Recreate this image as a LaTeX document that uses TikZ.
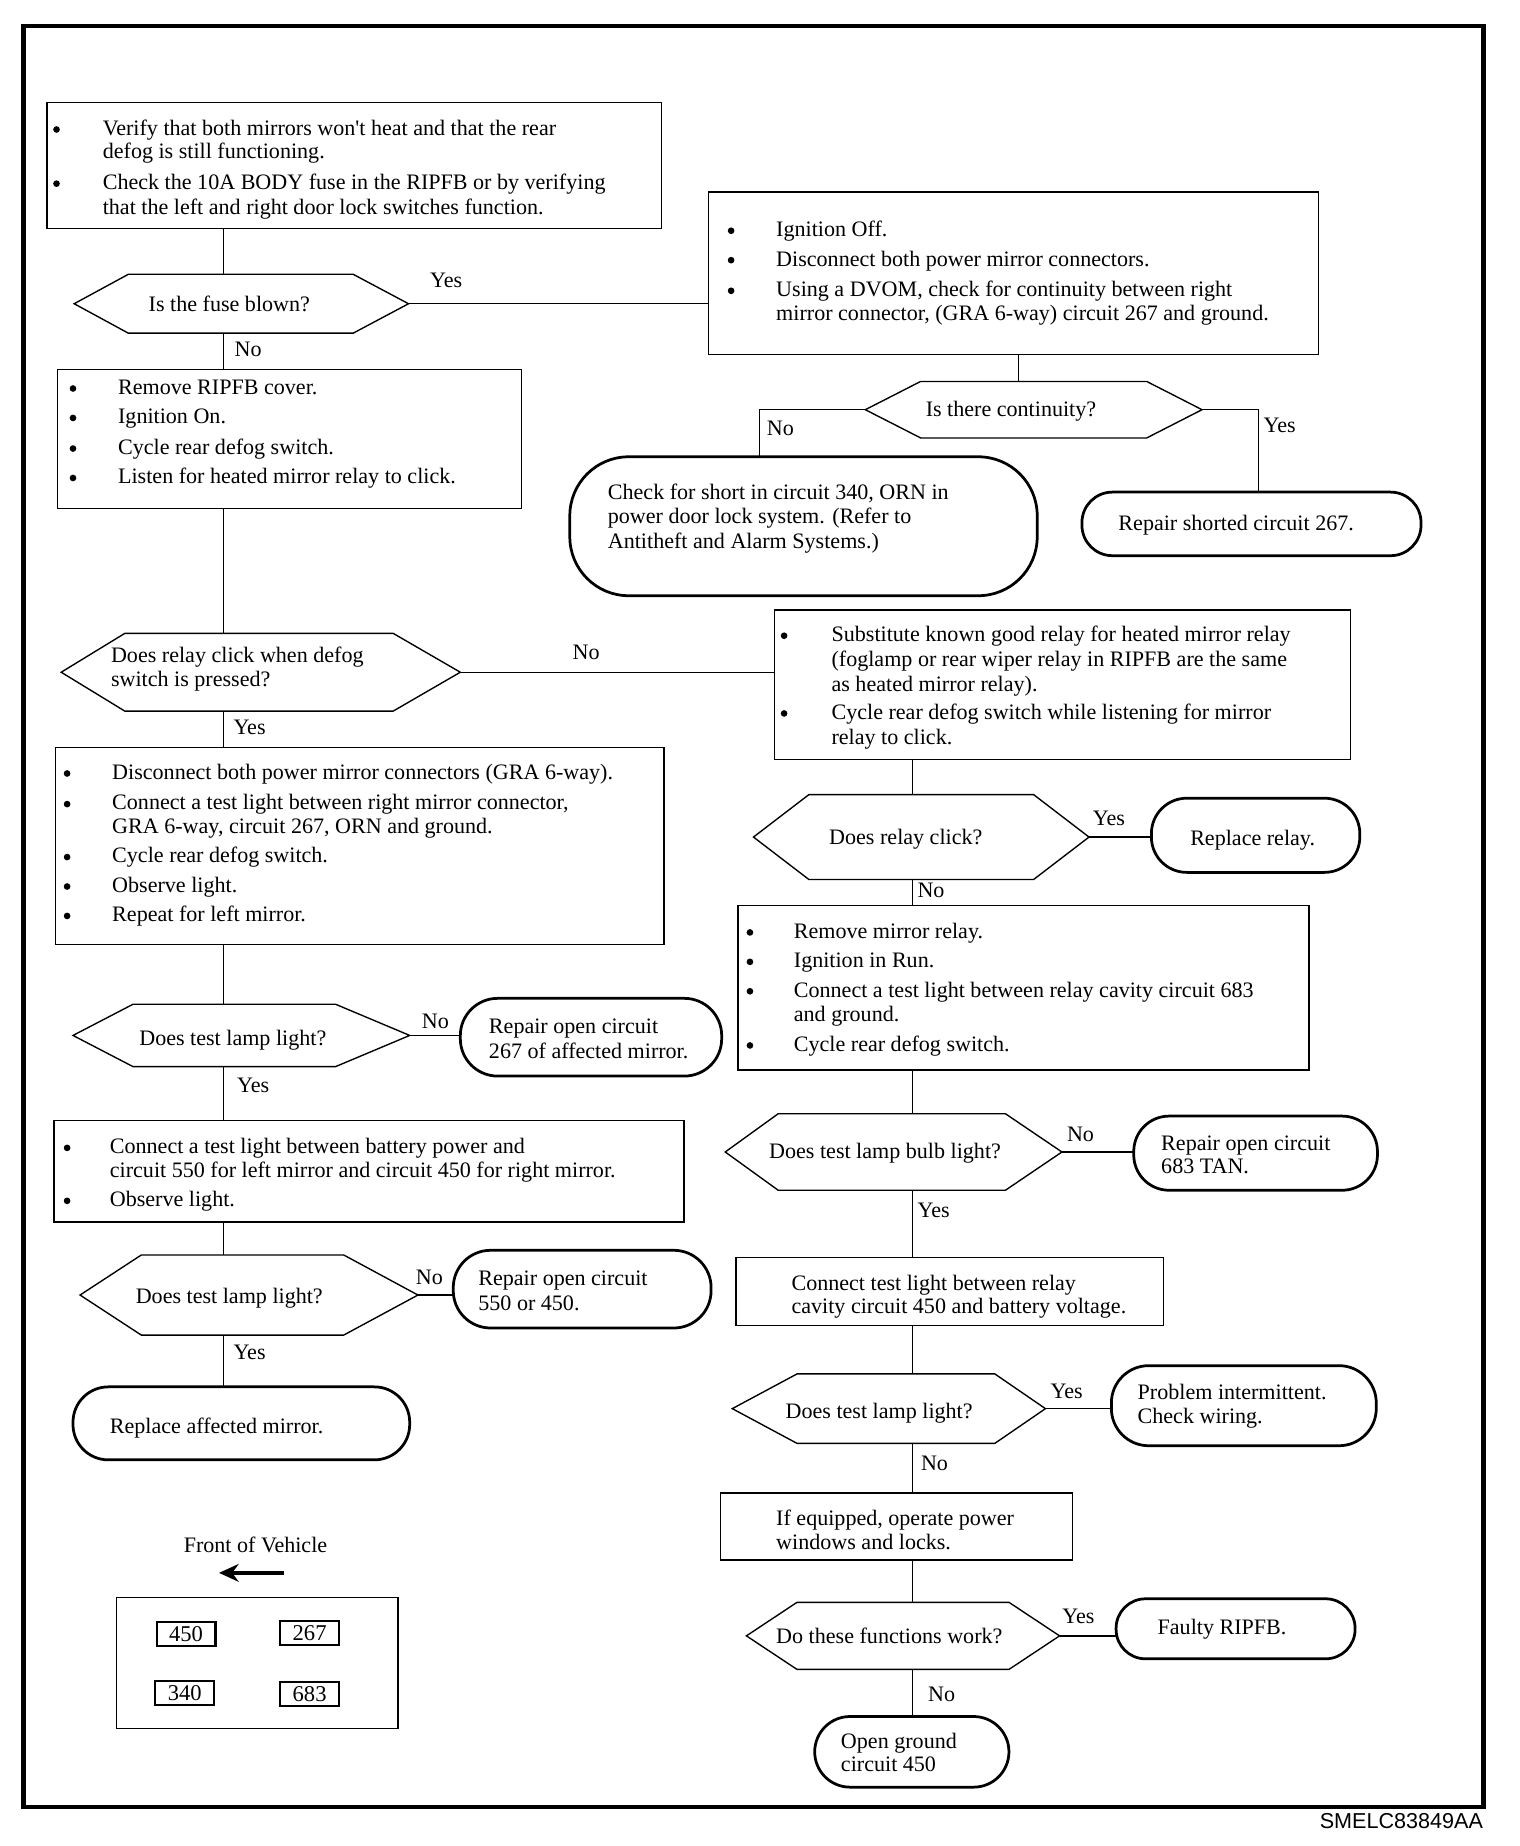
\documentclass[tikz,border=0pt]{standalone}
\usepackage{fontspec}
\setmainfont{Liberation Serif}
\newfontfamily\sansf{Liberation Sans}
\usetikzlibrary{arrows.meta}
\newcommand\fsz{\fontsize{11.25}{13}\selectfont}
\newcommand\bx[6][]{\node[boxst,#1,minimum width={(#5-#3)*0.6pt},minimum height={(#6-#4)*0.6pt}] (#2) at ({(#3+#5)/2},{(#4+#6)/2}) {};}
\newcommand\hx[7]{%
  \node[inner sep=0,outer sep=0,minimum width={(#5-#2)*0.6pt},minimum height={(#7-#6)*0.6pt}] (#1) at ({(#2+#5)/2},{(#6+#7)/2}) {};
  \draw[hexst] (#1.west) -- (#3,#6) -- (#4,#6) -- (#1.east) -- (#4,#7) -- (#3,#7) -- cycle;}
\newcommand\tl[4]{\node[tx] (#1) at (#2,#3) {#4};}
\newcommand\bul[3]{\node[dot] (#1) at (#2,{#3-5}) {};}
\begin{document}
\begin{tikzpicture}[x=0.6pt,y=-0.6pt,font=\fsz,
  boxst/.style={draw,line width=0.7pt,inner sep=0,outer sep=0,rectangle},
  termst/.style={line width=1.4pt},
  hexst/.style={line width=0.7pt,line join=miter},
  tx/.style={anchor=base west,inner sep=0},
  txc/.style={anchor=base,inner sep=0},
  dot/.style={circle,fill,inner sep=0,minimum size=3.4pt},
  conn/.style={line width=0.7pt},
  fuse/.style={draw,line width=1.1pt,inner sep=0,minimum width=30pt,minimum height=12pt,font=\fontsize{11.5}{13}\selectfont}]
\useasboundingbox (0,0) rectangle (1291,1568);
\node[draw,line width=2.2pt,inner sep=0,minimum width={1240*0.6pt},minimum height={1513*0.6pt}] (frame) at (640,778.5) {};
\node[anchor=base east,inner sep=0,font=\sansf\fontsize{11}{12}\selectfont] (code) at (1260,1553) {SMELC83849AA};
\coordinate (colL) at (190,0);
\coordinate (colR) at (775,0);
\coordinate (colM) at (865,0);
\coordinate (kNo) at (645,0);
\coordinate (kYes) at (1069,0);

% ---------- Box 1
\bx{b1}{40}{87}{562}{194}
\bul{b1p1}{48}{115}\tl{b1l1}{87}{115}{Verify that both mirrors won\textquotesingle t heat and that the rear}
\tl{b1l2}{87}{135}{defog is still functioning.}
\bul{b1p2}{48}{161}\tl{b1l3}{87}{161}{Check the 10A BODY fuse in the RIPFB or by verifying}
\tl{b1l4}{87}{182}{that the left and right door lock switches function.}

% ---------- D1
\hx{d1}{63}{109}{300}{347}{233}{283}
\tl{d1t}{126}{265}{Is the fuse blown?}
\tl{d1y}{365}{244}{Yes}
\tl{d1n}{199}{303}{No}

% ---------- Box 2
\bx{b2}{602}{163}{1120}{301}
\bul{b2p1}{621}{201}\tl{b2l1}{659}{201}{Ignition Off.}
\bul{b2p2}{621}{226}\tl{b2l2}{659}{226}{Disconnect both power mirror connectors.}
\bul{b2p3}{621}{252}\tl{b2l3}{659}{252}{Using a DVOM, check for continuity between right}
\tl{b2l4}{659}{272}{mirror connector, (GRA 6-way) circuit 267 and ground.}

% ---------- D2
\hx{d2}{735}{782}{974}{1021}{324}{372}
\tl{d2t}{786}{354}{Is there continuity?}
\tl{d2n}{651}{370}{No}
\tl{d2y}{1073}{367}{Yes}

% ---------- T1, T2
\bx[termst,rounded corners=30pt]{t1}{484}{388}{881}{506}
\tl{t1l1}{516}{424}{Check for short in circuit 340, ORN in}
\tl{t1l2}{516}{445}{power door lock system. (Refer to}
\tl{t1l3}{516}{466}{Antitheft and Alarm Systems.)}
\bx[termst,rounded corners=15.5pt]{t2}{919}{418}{1207}{472}
\node[txc] (t2t) at (1050,451) {Repair shorted circuit 267.};

% ---------- Box 3
\bx{b3}{49}{314}{443}{432}
\bul{b3p1}{62}{335}\tl{b3l1}{100}{335}{Remove RIPFB cover.}
\bul{b3p2}{62}{360}\tl{b3l2}{100}{360}{Ignition On.}
\bul{b3p3}{62}{386}\tl{b3l3}{100}{386}{Cycle rear defog switch.}
\bul{b3p4}{62}{411}\tl{b3l4}{100}{411}{Listen for heated mirror relay to click.}

% ---------- D3
\hx{d3}{52}{106}{334}{391}{538}{604}
\tl{d3t1}{94}{563}{Does relay click when defog}
\tl{d3t2}{94}{583}{switch is pressed?}
\tl{d3n}{486}{560}{No}
\tl{d3y}{198}{624}{Yes}

% ---------- Box 4
\bx{b4}{658}{518}{1147}{645}
\bul{b4p1}{666}{545}\tl{b4l1}{706}{545}{Substitute known good relay for heated mirror relay}
\tl{b4l2}{706}{566}{(foglamp or rear wiper relay in RIPFB are the same}
\tl{b4l3}{706}{587}{as heated mirror relay).}
\bul{b4p2}{666}{611}\tl{b4l4}{706}{611}{Cycle rear defog switch while listening for mirror}
\tl{b4l5}{706}{632}{relay to click.}

% ---------- Box 5
\bx{b5}{47}{635}{564}{802}
\bul{b5p1}{57}{662}\tl{b5l1}{95}{662}{Disconnect both power mirror connectors (GRA 6-way).}
\bul{b5p2}{57}{688}\tl{b5l2}{95}{688}{Connect a test light between right mirror connector,}
\tl{b5l3}{95}{708}{GRA 6-way, circuit 267, ORN and ground.}
\bul{b5p3}{57}{733}\tl{b5l4}{95}{733}{Cycle rear defog switch.}
\bul{b5p4}{57}{758}\tl{b5l5}{95}{758}{Observe light.}
\bul{b5p5}{57}{783}\tl{b5l6}{95}{783}{Repeat for left mirror.}

% ---------- D5, T5
\hx{d5}{62}{113}{285}{348}{853}{906}
\tl{d5t}{118}{888}{Does test lamp light?}
\tl{d5n}{358}{874}{No}
\tl{d5y}{201}{928}{Yes}
\bx[termst,rounded corners=19pt]{t5}{391}{848}{613}{914}
\tl{t5l1}{415}{878}{Repair open circuit}
\tl{t5l2}{415}{899}{267 of affected mirror.}

% ---------- Box 6
\bx{b6}{46}{952}{581}{1038}
\bul{b6p1}{57}{980}\tl{b6l1}{93}{980}{Connect a test light between battery power and}
\tl{b6l2}{93}{1000}{circuit 550 for left mirror and circuit 450 for right mirror.}
\bul{b6p2}{57}{1025}\tl{b6l3}{93}{1025}{Observe light.}

% ---------- D6, T6, T7
\hx{d6}{68}{120}{292}{355}{1066}{1134}
\tl{d6t}{115}{1107}{Does test lamp light?}
\tl{d6n}{353}{1091}{No}
\tl{d6y}{198}{1155}{Yes}
\bx[termst,rounded corners=19pt]{t6}{385}{1062}{604}{1128}
\tl{t6l1}{406}{1092}{Repair open circuit}
\tl{t6l2}{406}{1113}{550 or 450.}
\bx[termst,rounded corners=18pt]{t7}{62}{1178}{348}{1240}
\node[txc] (t7t) at (184,1218) {Replace affected mirror.};

% ---------- Front of vehicle
\node[txc] (fov) at (217,1319) {Front of Vehicle};
\coordinate (arA) at (241,1336);
\coordinate (arB) at (186,1336);
\bx{fb}{99}{1357}{338}{1468}
\node[fuse] (f450) at (158,1388) {450};
\node[fuse] (f267) at (263,1387) {267};
\node[fuse] (f340) at (157,1438) {340};
\node[fuse] (f683) at (263,1439) {683};

% ---------- D7, T8
\hx{d7}{640}{687}{878}{925}{675}{747}
\tl{d7t}{704}{717}{Does relay click?}
\tl{d7y}{928}{701}{Yes}
\tl{d7n}{779}{762}{No}
\bx[termst,rounded corners=18pt]{t8}{978}{678}{1155}{741}
\node[txc] (t8t) at (1064,718) {Replace relay.};

% ---------- Box 9
\bx{b9}{627}{769}{1112}{909}
\bul{b9p1}{637}{797}\tl{b9l1}{674}{797}{Remove mirror relay.}
\bul{b9p2}{637}{822}\tl{b9l2}{674}{822}{Ignition in Run.}
\bul{b9p3}{637}{847}\tl{b9l3}{674}{847}{Connect a test light between relay cavity circuit 683}
\tl{b9l4}{674}{868}{and ground.}
\bul{b9p4}{637}{893}\tl{b9l5}{674}{893}{Cycle rear defog switch.}

% ---------- D10, T10
\hx{d10}{616}{661}{854}{902}{946}{1011}
\tl{d10t}{653}{984}{Does test lamp bulb light?}
\tl{d10n}{906}{970}{No}
\tl{d10y}{779}{1034}{Yes}
\bx[termst,rounded corners=18pt]{t10}{963}{948}{1170}{1011}
\tl{t10l1}{986}{977}{Repair open circuit}
\tl{t10l2}{986}{997}{683 TAN.}

% ---------- Box 11
\bx{b11}{625}{1068}{988}{1126}
\tl{b11l1}{672}{1096}{Connect test light between relay}
\tl{b11l2}{672}{1116}{cavity circuit 450 and battery voltage.}

% ---------- D12, T12
\hx{d12}{622}{677}{845}{888}{1167}{1226}
\tl{d12t}{667}{1205}{Does test lamp light?}
\tl{d12y}{892}{1188}{Yes}
\tl{d12n}{782}{1249}{No}
\bx[termst,rounded corners=19pt]{t12}{944}{1160}{1169}{1228}
\tl{t12l1}{966}{1189}{Problem intermittent.}
\tl{t12l2}{966}{1209}{Check wiring.}

% ---------- Box 13
\bx{b13}{612}{1268}{911}{1325}
\tl{b13l1}{659}{1296}{If equipped, operate power}
\tl{b13l2}{659}{1316}{windows and locks.}

% ---------- D14, T14, T15
\hx{d14}{634}{677}{857}{900}{1361}{1418}
\tl{d14t}{659}{1396}{Do these functions work?}
\tl{d14y}{902}{1379}{Yes}
\tl{d14n}{788}{1445}{No}
\bx[termst,rounded corners=15pt]{t14}{948}{1358}{1151}{1409}
\node[txc] (t14t) at (1038,1388) {Faulty RIPFB.};
\bx[termst,rounded corners=18pt]{t15}{692}{1458}{857}{1518}
\tl{t15l1}{714}{1485}{Open ground}
\tl{t15l2}{714}{1505}{circuit 450}

% ---------- connectors
\begin{scope}[conn]
\draw (b1.south -| colL) -- (d1.north -| colL);
\draw (d1.east) -- (d1.east -| b2.west);
\draw (d1.south -| colL) -- (b3.north -| colL);
\draw (b2.south -| colM) -- (d2.north -| colM);
\draw (d2.west) -- (d2.west -| kNo) -- (t1.north -| kNo);
\draw (d2.east) -- (d2.east -| kYes) -- (t2.north -| kYes);
\draw (b3.south -| colL) -- (d3.north -| colL);
\draw (d3.east) -- (d3.east -| b4.west);
\draw (d3.south -| colL) -- (b5.north -| colL);
\draw (b5.south -| colL) -- (d5.north -| colL);
\draw (d5.east) -- (d5.east -| t5.west);
\draw (d5.south -| colL) -- (b6.north -| colL);
\draw (b6.south -| colL) -- (d6.north -| colL);
\draw (d6.east) -- (d6.east -| t6.west);
\draw (d6.south -| colL) -- (t7.north -| colL);
\draw (b4.south -| colR) -- (d7.north -| colR);
\draw (d7.east) -- (d7.east -| t8.west);
\draw (d7.south -| colR) -- (b9.north -| colR);
\draw (b9.south -| colR) -- (d10.north -| colR);
\draw (d10.east) -- (d10.east -| t10.west);
\draw (d10.south -| colR) -- (b11.north -| colR);
\draw (b11.south -| colR) -- (d12.north -| colR);
\draw (d12.east) -- (d12.east -| t12.west);
\draw (d12.south -| colR) -- (b13.north -| colR);
\draw (b13.south -| colR) -- (d14.north -| colR);
\draw (d14.east) -- (d14.east -| t14.west);
\draw (d14.south -| colR) -- (t15.north -| colR);
\end{scope}
\draw[line width=1.8pt,-{Stealth[length=10pt,width=9pt]}] (arA) -- (arB);
\end{tikzpicture}
\end{document}
